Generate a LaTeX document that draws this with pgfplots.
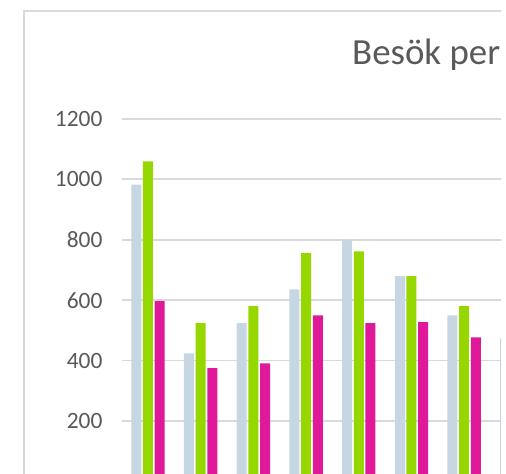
\documentclass[border=0pt]{standalone}
\usepackage{fontspec}
\setmainfont{Carlito}
\usepackage{pgfplots}
\pgfplotsset{compat=1.18}

\definecolor{serA}{HTML}{C6D6E2}
\definecolor{serB}{HTML}{97D700}
\definecolor{serC}{HTML}{E0199A}
\definecolor{gridgray}{HTML}{D9D9D9}
\definecolor{textgray}{HTML}{595959}

\begin{document}
\begin{tikzpicture}
% the reference is a cropped screenshot: keep the same window
\useasboundingbox (0,0) rectangle (506bp,474bp);
\clip (0,0) rectangle (501bp,474bp);

% chart area border (only left and top edges are visible)
\draw[gridgray, line width=2bp] (24bp,-20bp) -- (24bp,463bp) -- (620bp,463bp);

% title
\node[anchor=base west, inner sep=0pt, text=textgray, font=\fontsize{37}{40}\selectfont]
  at (352bp,409bp) {Besök per};

\begin{axis}[
    at={(121.6bp,-7.4bp)},
    anchor=south west,
    x=52.7bp, y=0.302bp,
    xmin=-0.5, xmax=11.5,
    ymin=0, ymax=1200,
    axis line style={draw=none},
    tick style={draw=none},
    xtick=\empty,
    ytick={200,400,...,1200},
    ymajorgrids,
    major grid style={draw=gridgray, line width=1.8bp},
    yticklabel style={text=textgray, font=\fontsize{23.5}{26}\selectfont,
                      inner sep=0pt, xshift=-19bp},
    /pgf/number format/assume math mode=true,
    /pgf/number format/1000 sep={},
    ybar=1.7bp,
    bar width=10bp,
    clip=false,
]
\addplot[fill=serA, draw=none] coordinates {
    (0,983) (1,424) (2,524) (3,636) (4,800) (5,680) (6,550) (7,474)
};
\addplot[fill=serB, draw=none] coordinates {
    (0,1060) (1,524) (2,580) (3,756) (4,762) (5,680) (6,580)
};
\addplot[fill=serC, draw=none] coordinates {
    (0,597) (1,375) (2,391) (3,550) (4,524) (5,527) (6,477)
};
\end{axis}
\end{tikzpicture}
\end{document}
